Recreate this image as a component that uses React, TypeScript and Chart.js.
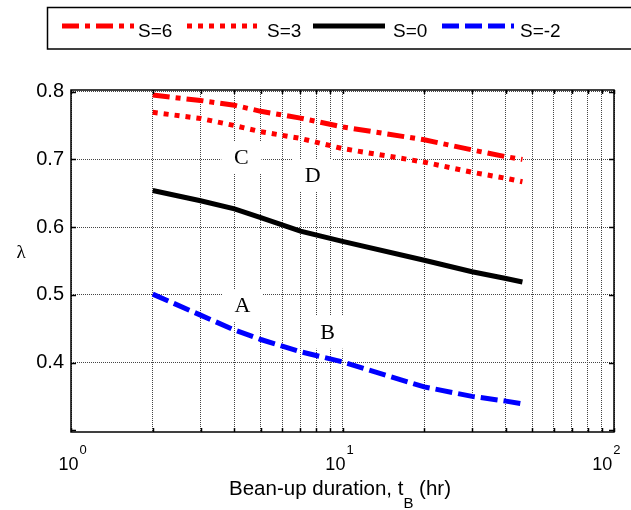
import React, { useEffect, useRef } from "react";
import { Chart, registerables } from "chart.js";

Chart.register(...registerables);

// ---- data ----
const durations = [2, 3, 4, 5, 7, 10, 20, 30, 40, 46];
const lambdaS6 = [0.795, 0.787, 0.780, 0.771, 0.761, 0.748, 0.729, 0.714, 0.704, 0.700];
const lambdaS3 = [0.7695, 0.7605, 0.750, 0.741, 0.731, 0.716, 0.696, 0.681, 0.672, 0.667];
const lambdaS0 = [0.654, 0.639, 0.627, 0.614, 0.594, 0.579, 0.551, 0.534, 0.524, 0.519];
const lambdaSm2 = [0.501, 0.470, 0.448, 0.434, 0.416, 0.401, 0.364, 0.350, 0.343, 0.339];
const seriesLabels = ["S=6", "S=3", "S=0", "S=-2"];

const xTickValues = [1, 2, 3, 4, 5, 6, 7, 8, 9, 10, 20, 30, 40, 50, 60, 70, 80, 90, 100];
const xLabelExponents = [0, 1, 2];
const yTickValues = [0.3, 0.4, 0.5, 0.6, 0.7, 0.8];
const yHiddenLabel = 0.3;

const noteLabels = ["C", "D", "A", "B"];
const noteX = [4.24, 7.77, 4.28, 8.82];
const noteY = [0.7035, 0.677, 0.4847, 0.4455];

const xTitleMain = "Bean-up duration, t";
const xTitleSub = "B";
const xTitleEnd = " (hr)";
const yTitle = "λ";

// ---- styles ----
const SANS = "'Liberation Sans', Arial, Helvetica, sans-serif";
const SERIF = "'Liberation Serif', 'Times New Roman', serif";
const seriesColors = ["#ff0000", "#ff0000", "#000000", "#0000ff"];
const seriesDash = [[17, 6, 5, 6], [5, 6], [], [17, 6]];
const gridColor = "#454545";

const decorPlugin = {
  id: "decor",
  beforeDatasetsDraw(chart: any) {
    const ctx = chart.ctx;
    const xs = chart.scales.x;
    const ys = chart.scales.y;
    ctx.save();
    ctx.font = `22px ${SERIF}`;
    ctx.textAlign = "center";
    ctx.textBaseline = "middle";
    noteLabels.forEach((lab, i) => {
      const px = xs.getPixelForValue(noteX[i]);
      const py = ys.getPixelForValue(noteY[i]);
      ctx.fillStyle = "#ffffff";
      ctx.fillRect(px - 20, py - 16, 40, 33);
      ctx.fillStyle = "#000000";
      ctx.fillText(lab, px, py + 1);
    });
    ctx.restore();
  },
  afterDraw(chart: any) {
    const ctx = chart.ctx;
    const { left, right, top, bottom } = chart.chartArea;
    const xs = chart.scales.x;
    const ys = chart.scales.y;
    ctx.save();
    // axes box
    ctx.strokeStyle = "#000";
    ctx.lineWidth = 1.5;
    ctx.setLineDash([]);
    ctx.strokeRect(left, top, right - left, bottom - top);
    // inward tick marks
    ctx.lineWidth = 1.5;
    ctx.beginPath();
    xTickValues.forEach((v) => {
      const px = Math.round(xs.getPixelForValue(v)) + 0.5;
      ctx.moveTo(px, bottom);
      ctx.lineTo(px, bottom - 4);
      ctx.moveTo(px, top);
      ctx.lineTo(px, top + 4);
    });
    yTickValues.forEach((v) => {
      const py = Math.round(ys.getPixelForValue(v)) + 0.5;
      ctx.moveTo(left, py);
      ctx.lineTo(left + 5, py);
      ctx.moveTo(right, py);
      ctx.lineTo(right - 5, py);
    });
    ctx.stroke();

    // x tick labels 10^n
    ctx.fillStyle = "#000";
    ctx.textBaseline = "alphabetic";
    ctx.textAlign = "left";
    xLabelExponents.forEach((e) => {
      const px = xs.getPixelForValue(Math.pow(10, e));
      ctx.font = `18px ${SANS}`;
      const w1 = ctx.measureText("10").width;
      const cx = px - 2.5 - (px - left) * 0.017;
      const x0 = cx - w1 / 2;
      ctx.fillText("10", x0, 470);
      ctx.font = `13px ${SANS}`;
      ctx.fillText(String(e), x0 + w1 + 1, 453.5);
    });

    // x axis title with subscript
    const cxTitle = (left + right) / 2 - 2.5;
    ctx.font = `20.5px ${SANS}`;
    const wa = ctx.measureText(xTitleMain).width;
    const wc = ctx.measureText(xTitleEnd).width;
    ctx.font = `15px ${SANS}`;
    const wb = ctx.measureText(xTitleSub).width;
    let tx = cxTitle - (wa + wb + wc) / 2;
    ctx.font = `20.5px ${SANS}`;
    ctx.fillText(xTitleMain, tx, 495);
    tx += wa;
    ctx.font = `15px ${SANS}`;
    ctx.fillText(xTitleSub, tx, 508);
    tx += wb;
    ctx.font = `20.5px ${SANS}`;
    ctx.fillText(xTitleEnd, tx, 495);

    // y axis title
    ctx.font = `19px ${SERIF}`;
    ctx.textAlign = "center";
    ctx.fillText(yTitle, 21, 258);

    // legend
    ctx.textAlign = "left";
    ctx.lineWidth = 1.5;
    ctx.strokeStyle = "#000";
    ctx.strokeRect(47.5, 7.5, 700, 41.5);
    const lineStarts = [62, 187, 313, 442];
    const lineEnds = [134, 257, 385, 514];
    const textStarts = [138, 267, 393, 520];
    seriesLabels.forEach((lab, i) => {
      ctx.save();
      ctx.strokeStyle = seriesColors[i];
      ctx.lineWidth = 5;
      ctx.lineCap = "butt";
      ctx.setLineDash(seriesDash[i]);
      ctx.beginPath();
      ctx.moveTo(lineStarts[i], 26);
      ctx.lineTo(lineEnds[i], 26);
      ctx.stroke();
      ctx.restore();
      ctx.fillStyle = "#000";
      ctx.font = `19px ${SANS}`;
      ctx.fillText(lab, textStarts[i], 37);
    });
    ctx.restore();
  },
};

export default function App() {
  const canvasRef = useRef<HTMLCanvasElement | null>(null);

  useEffect(() => {
    const canvas = canvasRef.current;
    if (!canvas) return;
    const seriesValues = [lambdaS6, lambdaS3, lambdaS0, lambdaSm2];
    const chart = new Chart(canvas, {
      type: "line",
      data: {
        datasets: seriesValues.map((vals, i) => ({
          label: seriesLabels[i],
          data: durations.map((d, j) => ({ x: d, y: vals[j] })),
          borderColor: seriesColors[i],
          backgroundColor: seriesColors[i],
          borderWidth: 5,
          borderDash: seriesDash[i],
          borderCapStyle: "butt",
          borderJoinStyle: "miter",
          pointRadius: 0,
          tension: 0,
          fill: false,
        })),
      },
      options: {
        responsive: false,
        animation: false,
        devicePixelRatio: 1,
        layout: { padding: { left: 0, right: 17, top: 90, bottom: 0 } },
        plugins: {
          legend: { display: false },
          tooltip: { enabled: false },
          title: { display: false },
        },
        scales: {
          x: {
            type: "logarithmic",
            min: 1,
            max: 100,
            afterBuildTicks: (s: any) => {
              s.ticks = xTickValues.map((v) => ({ value: v }));
            },
            afterFit: (s: any) => {
              s.height = 78;
            },
            ticks: { display: false },
            grid: { color: gridColor, lineWidth: 1, drawTicks: false },
            border: { display: false, dash: [1, 1] },
          },
          y: {
            type: "linear",
            min: 0.2974,
            max: 0.8025,
            afterBuildTicks: (s: any) => {
              s.ticks = yTickValues.map((v) => ({ value: v }));
            },
            afterFit: (s: any) => {
              s.width = 71;
            },
            ticks: {
              padding: 7,
              color: "#000",
              font: { family: SANS, size: 20 },
              callback: (v: any) =>
                Math.abs(Number(v) - yHiddenLabel) < 1e-6 ? "" : Number(v).toFixed(1),
            },
            grid: {
              color: (c: any) =>
                c.tick && Math.abs(c.tick.value - yHiddenLabel) < 1e-6 ? "rgba(0,0,0,0)" : gridColor,
              lineWidth: 1,
              drawTicks: false,
            },
            border: { display: false, dash: [1, 1] },
          },
        },
      },
      plugins: [decorPlugin],
    } as any);
    return () => chart.destroy();
  }, []);

  return (
    <div style={{ position: "fixed", left: 0, top: 0, width: 631, height: 510, background: "#fff" }}>
      <canvas ref={canvasRef} width={631} height={510} style={{ display: "block", width: 631, height: 510 }} />
    </div>
  );
}
